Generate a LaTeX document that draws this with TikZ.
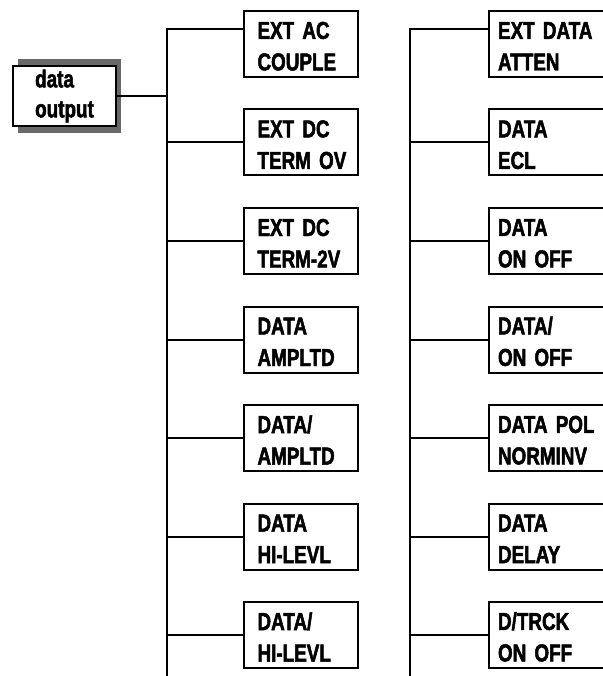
\documentclass[tikz,border=0pt]{standalone}
\usepackage{fontspec}
\setmainfont{Liberation Sans}
\newfontfamily\condfont[FakeStretch=0.77,FakeBold=2]{Liberation Sans}
\usetikzlibrary{positioning,backgrounds}
\definecolor{ShadowGray}{RGB}{105,105,105}

\begin{document}
\begin{tikzpicture}[x=1pt,y=-1pt,line width=2pt,node distance=30.5pt,
  menu/.style={rectangle,draw,line width=2pt,minimum height=66pt,inner ysep=0pt,align=left,font=\condfont\bfseries\fontsize{24.5}{31.5}\selectfont,execute at begin node={\rule{0pt}{21.5pt}}},
  lmenu/.style={menu,inner xsep=13.5pt,text width=87pt},
  rmenu/.style={menu,inner xsep=9pt,text width=104pt},
  outbox/.style={rectangle,draw,fill=white,line width=2pt,minimum width=103pt,minimum height=60pt,inner sep=0pt,align=left,font=\condfont\bfseries\fontsize{24.5}{30}\selectfont,execute at begin node={\rule{0pt}{21.5pt}}}
]
  \useasboundingbox (0,0) rectangle (602,676);
  % source box with its shadow
  \node[outbox] (out) at (64.5,96) {data\\output};
  \begin{scope}[on background layer]
    \fill[ShadowGray] ([xshift=6pt,yshift=6pt]out.north west) rectangle ([xshift=4pt,yshift=-6pt]out.south east);
  \end{scope}
  % left column
  \node[lmenu,anchor=north west] (acc) at (243,10) {EXT~AC\\COUPLE};
  \node[lmenu,below=of acc] (dcov) {EXT~DC\\TERM~OV};
  \node[lmenu,below=of dcov] (dctwo) {EXT~DC\\TERM-2V};
  \node[lmenu,below=of dctwo] (ampl) {DATA\\AMPLTD};
  \node[lmenu,below=of ampl] (namp) {DATA/\\AMPLTD};
  \node[lmenu,below=of namp] (hilv) {DATA\\HI-LEVL};
  \node[lmenu,below=of hilv] (nhil) {DATA/\\HI-LEVL};
  % right column
  \node[rmenu,anchor=north west] (atten) at (488,10) {EXT~DATA\\ATTEN};
  \node[rmenu,below=of atten] (ecl) {DATA\\ECL};
  \node[rmenu,below=of ecl] (onoff) {DATA\\ON~OFF};
  \node[rmenu,below=of onoff] (nonoff) {DATA/\\ON~OFF};
  \node[rmenu,below=of nonoff] (pol) {DATA~POL\\NORMINV};
  \node[rmenu,below=of pol] (dly) {DATA\\DELAY};
  \node[rmenu,below=of dly] (trck) {D/TRCK\\ON~OFF};
  % bus lines
  \coordinate (lbus) at (167,676);
  \coordinate (rbus) at (410,676);
  \draw ([yshift=-19pt]acc.north west) -| (lbus);
  \draw ([yshift=-19pt]atten.north west) -| (rbus);
  \draw (out.east) -- (out.east -| lbus);
  \draw (dcov.west) -- (dcov.west -| lbus);
  \draw (dctwo.west) -- (dctwo.west -| lbus);
  \draw (ampl.west) -- (ampl.west -| lbus);
  \draw (namp.west) -- (namp.west -| lbus);
  \draw (hilv.west) -- (hilv.west -| lbus);
  \draw (nhil.west) -- (nhil.west -| lbus);
  \draw (ecl.west) -- (ecl.west -| rbus);
  \draw (onoff.west) -- (onoff.west -| rbus);
  \draw (nonoff.west) -- (nonoff.west -| rbus);
  \draw (pol.west) -- (pol.west -| rbus);
  \draw (dly.west) -- (dly.west -| rbus);
  \draw (trck.west) -- (trck.west -| rbus);
\end{tikzpicture}
\end{document}
